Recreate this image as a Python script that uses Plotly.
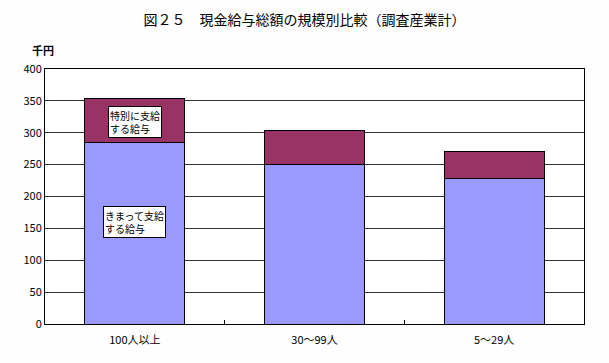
import plotly.graph_objects as go

categories = ["100人以上", "30～99人", "5～29人"]
regular_pay = [285, 250, 229]
special_pay = [68, 54, 42]
y_ticks = [0, 50, 100, 150, 200, 250, 300, 350, 400]

font_fam = "Noto Sans CJK JP, sans-serif"

fig = go.Figure()
fig.add_trace(go.Bar(x=categories, y=regular_pay, name="きまって支給する給与",
                     marker=dict(color="#9999ff", line=dict(color="#000000", width=1))))
fig.add_trace(go.Bar(x=categories, y=special_pay, name="特別に支給する給与",
                     marker=dict(color="#993366", line=dict(color="#000000", width=1))))

fig.update_layout(
    width=609, height=363,
    barmode="stack", bargap=0.444,
    showlegend=False,
    paper_bgcolor="#fdfefd", plot_bgcolor="#ffffff",
    margin=dict(l=45, r=25, t=69, b=39),
    font=dict(family=font_fam, size=11, color="#000000"),
    title=dict(text="図２５　現金給与総額の規模別比較（調査産業計）", x=0.5, xanchor="center",
               y=0.945, yanchor="middle", font=dict(size=14, family=font_fam)),
    xaxis=dict(showline=True, linecolor="#000000", linewidth=1, mirror=True,
               ticks="inside", tickson="boundaries", ticklen=4, tickcolor="#000000",
               showgrid=False, tickfont=dict(size=11), ticklabelstandoff=6),
    yaxis=dict(range=[0, 400], tickvals=y_ticks, showline=True, linecolor="#000000",
               linewidth=1, mirror=True, showgrid=True, gridcolor="#333333", gridwidth=1,
               ticks="", tickfont=dict(size=11), zeroline=False),
)

fig.add_annotation(x=0, y=1.005, xref="paper", yref="paper", xanchor="center", yanchor="bottom",
                   text="<b>千円</b>", showarrow=False, font=dict(size=11), xshift=-2, yshift=8)

fig.add_annotation(x=categories[0], y=317, xref="x", yref="y",
                   text="特別に支給<br>する給与", showarrow=False, align="left",
                   bgcolor="#ffffff", bordercolor="#000000", borderwidth=1, borderpad=1,
                   font=dict(size=10))
fig.add_annotation(x=categories[0], y=160, xref="x", yref="y",
                   text="きまって支給<br>する給与", showarrow=False, align="left",
                   bgcolor="#ffffff", bordercolor="#000000", borderwidth=1, borderpad=1,
                   font=dict(size=10))

fig.write_html("out.html")
